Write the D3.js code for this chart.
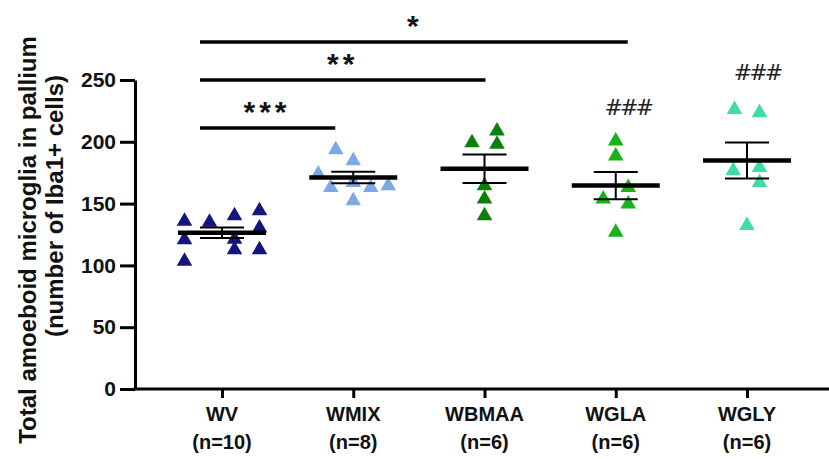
<!DOCTYPE html>
<html>
<head>
<meta charset="utf-8">
<script src="https://cdn.jsdelivr.net/npm/d3@7"></script>
<style>
  html, body { margin: 0; padding: 0; background: #fff; }
  svg { display: block; font-family: "Liberation Sans", Arial, sans-serif; }
</style>
</head>
<body>
<svg id="chart" width="829" height="459"></svg>
<script>
// ---- data ----
const categories = ["WV", "WMIX", "WBMAA", "WGLA", "WGLY"];
const nLabels = ["(n=10)", "(n=8)", "(n=6)", "(n=6)", "(n=6)"];
const valuesWV    = [136.5, 121.5, 104.2, 135.7, 141, 122, 113.4, 145, 131, 113.4];
const valuesWMIX  = [194.3, 185.4, 174.7, 163.9, 167.9, 163.9, 165.2, 153.1];
const valuesWBMAA = [200.1, 209.6, 198.8, 165.2, 154.5, 141];
const valuesWGLA  = [201.5, 189.4, 163.9, 154.5, 150.5, 127.6];
const valuesWGLY  = [227, 224.3, 177.3, 180, 167.9, 133];
const yTicks = [0, 50, 100, 150, 200, 250];
const comparisons = [
  { from: "WV", to: "WMIX",  label: "***" },
  { from: "WV", to: "WBMAA", label: "**" },
  { from: "WV", to: "WGLA",  label: "*" }
];
const hashLabels = [
  { group: "WGLA", label: "###" },
  { group: "WGLY", label: "###" }
];

// ---- layout (not data) ----
const groups = [valuesWV, valuesWMIX, valuesWBMAA, valuesWGLA, valuesWGLY];
const colors = ["#15157d", "#7ea8e4", "#0b7f0b", "#17b317", "#3fdca3"];
// horizontal slot of each point within its column (layout only)
const slots = [
  [-1.5, -1.5, -1.5, -0.5, 0.5, 0.5, 0.5, 1.5, 1.5, 1.5],
  [-0.7, 0, -1.4, -0.9, 0, 0.7, 1.4, 0],
  [-0.5, 0.5, 0.5, 0, 0, 0],
  [0, 0, 0.5, -0.5, 0.5, 0],
  [-0.5, 0.5, -0.55, 0.5, 0.5, 0]
];
const slotW = 25;

const svg = d3.select("#chart");
const x = d3.scalePoint().domain(categories).range([222, 747]);
const y = d3.scaleLinear().domain([0, 250]).range([389, 80]);
const axisLeftX = 135;

// y axis
const yAxis = d3.axisLeft(y).tickValues(yTicks).tickSize(15).tickPadding(4).tickSizeOuter(0);
const gy = svg.append("g").attr("transform", `translate(${axisLeftX},0)`).call(yAxis);
gy.select(".domain").attr("stroke", "#000").attr("stroke-width", 3);
gy.selectAll(".tick line").attr("stroke", "#000").attr("stroke-width", 3);
gy.selectAll(".tick text").attr("font-size", 21).attr("font-weight", "bold").attr("fill", "#111")
  .attr("font-family", "Liberation Sans, Arial, sans-serif");

// x axis
const xAxis = d3.axisBottom(x).tickSize(9).tickFormat("");
const gx = svg.append("g").attr("transform", `translate(0,${y(0)})`).call(xAxis);
gx.select(".domain").remove();
gx.selectAll(".tick line").attr("stroke", "#000").attr("stroke-width", 3);
svg.append("line").attr("x1", axisLeftX - 1.5).attr("x2", 829).attr("y1", y(0)).attr("y2", y(0))
  .attr("stroke", "#000").attr("stroke-width", 3);

// category labels
const catG = svg.append("g").attr("font-size", 20).attr("font-weight", "bold").attr("fill", "#111").attr("text-anchor", "middle");
categories.forEach((c, i) => {
  catG.append("text").attr("x", x(c)).attr("y", y(0) + 32).text(c);
  catG.append("text").attr("x", x(c)).attr("y", y(0) + 60).text(nLabels[i]);
});

// y title
const tG = svg.append("g").attr("font-weight", "bold").attr("fill", "#111").attr("text-anchor", "middle");
tG.append("text").attr("transform", `translate(36,240) rotate(-90)`).attr("font-size", 24).text("Total amoeboid microglia in pallium");
tG.append("text").attr("transform", `translate(63,206) rotate(-90)`).attr("font-size", 24).text("(number of Iba1+ cells)");

// points
const tri = d3.symbol().type(d3.symbolTriangle).size(105);
groups.forEach((vals, gi) => {
  const cx = x(categories[gi]);
  svg.append("g").selectAll("path").data(vals).join("path")
    .attr("d", tri)
    .attr("fill", colors[gi])
    .attr("transform", (d, i) => `translate(${cx + slots[gi][i] * slotW},${y(d) + 1})`);
});

// mean +/- SEM
groups.forEach((vals, gi) => {
  const cx = x(categories[gi]);
  const m = d3.mean(vals);
  const sem = d3.deviation(vals) / Math.sqrt(vals.length);
  const g = svg.append("g").attr("stroke", "#000");
  g.append("line").attr("x1", cx).attr("x2", cx).attr("y1", y(m + sem)).attr("y2", y(m - sem)).attr("stroke-width", 2);
  g.append("line").attr("x1", cx - 22).attr("x2", cx + 22).attr("y1", y(m + sem)).attr("y2", y(m + sem)).attr("stroke-width", 2);
  g.append("line").attr("x1", cx - 22).attr("x2", cx + 22).attr("y1", y(m - sem)).attr("y2", y(m - sem)).attr("stroke-width", 2);
  g.append("line").attr("x1", cx - 44).attr("x2", cx + 44).attr("y1", y(m)).attr("y2", y(m)).attr("stroke-width", 4.5);
});

// significance brackets
const bracketY = [128, 80, 42];
const bracketEndAdj = [-18, 1, 12];
comparisons.forEach((c, i) => {
  const x1 = x(c.from) - 22, x2 = x(c.to) + bracketEndAdj[i];
  svg.append("line").attr("x1", x1).attr("x2", x2).attr("y1", bracketY[i]).attr("y2", bracketY[i])
    .attr("stroke", "#000").attr("stroke-width", 3.5);
  const tx = i === 0 ? x(c.from) + 45 : (i === 1 ? (x1 + x2) / 2 : (x1 + x2) / 2 + 1);
  svg.append("text").attr("x", tx).attr("y", bracketY[i] - 6)
    .attr("text-anchor", "middle").attr("font-size", 30).attr("font-weight", "bold")
    .attr("letter-spacing", 4).attr("fill", "#111").text(c.label);
});

// ### marks
const hashY = { WGLA: 115, WGLY: 80 };
const hashDx = { WGLA: 12, WGLY: 10 };
hashLabels.forEach(h => {
  svg.append("text").attr("x", x(h.group) + hashDx[h.group]).attr("y", hashY[h.group])
    .attr("text-anchor", "middle").attr("font-size", 22).attr("fill", "#222")
    .attr("font-family", "DejaVu Sans, sans-serif").attr("letter-spacing", -3).text(h.label);
});
</script>
</body>
</html>
